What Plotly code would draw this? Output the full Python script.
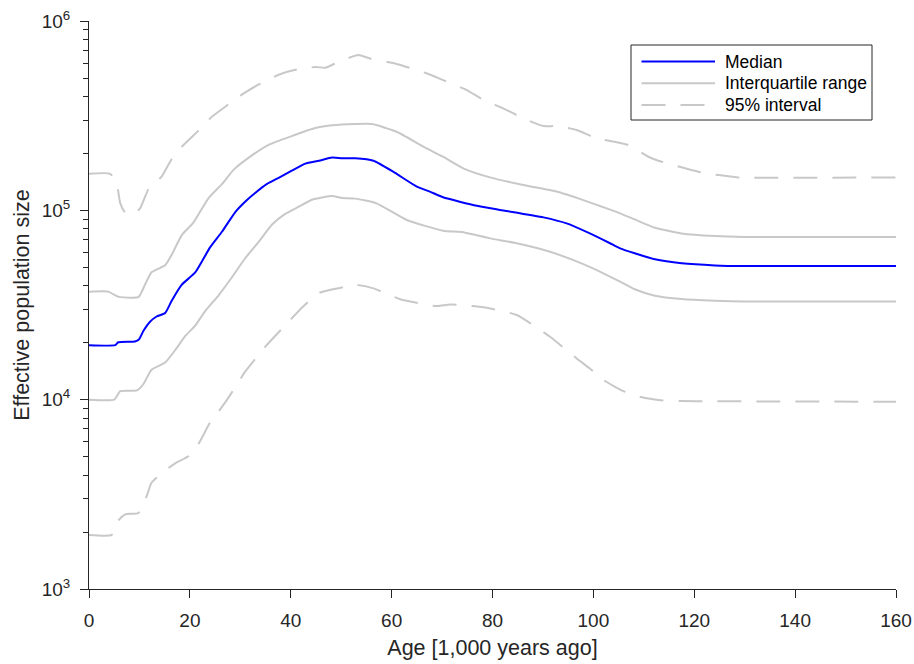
import plotly.graph_objects as go

# ---------------- data ----------------
median_age = [0, 5.2, 5.8, 9.1, 9.9, 10.8, 12.1, 13.4, 15.1, 16.4, 18.4, 21.1, 24.0, 26.4, 29.0,
              31.0, 33.0, 35.3, 37.6, 40.3, 42.9, 45.6, 48.2, 50.2, 52.8, 56.4, 60.3, 65.0, 67.6,
              70.2, 76.9, 81.5, 90.1, 94.7, 99.3, 103.3, 105.3, 108.2, 112.2, 117.5, 124.1, 130, 160]
median_ne = [19400, 19400, 20100, 20300, 20800, 23100, 25800, 27500, 28700, 33300, 40500, 47100,
             63700, 77300, 97900, 111400, 123900, 138000, 148600, 162600, 176600, 182800, 190100,
             188400, 188400, 182800, 160000, 133400, 125600, 117200, 105700, 100500, 91800, 85300,
             75500, 67000, 63000, 59300, 55100, 52500, 51200, 50800, 50800]

iqr_hi_age = [0, 3.8, 5.5, 6.2, 9.8, 11.1, 12.4, 15.1, 16.4, 18.4, 20.7, 23.7, 26.4, 28.7, 32.3,
              35.6, 40.3, 44.2, 48.2, 52.8, 56.1, 61.0, 66.3, 70.2, 74.2, 79.5, 86.1, 92.7, 98.0,
              102.0, 105.3, 108.2, 112.2, 117.5, 124.1, 130, 160]
iqr_hi_ne = [37200, 37200, 35200, 34800, 34800, 40500, 47100, 51300, 58300, 74000, 86100, 116100,
             138000, 164100, 195000, 221800, 247200, 269200, 281200, 285800, 285800, 260000,
             216800, 191900, 166700, 149300, 136100, 125600, 113200, 103800, 96400, 89500, 80900,
             75500, 73100, 72300, 72300]

iqr_lo_age = [0, 5.0, 6.2, 9.5, 10.8, 12.4, 15.1, 17.1, 19.1, 21.1, 23.0, 25.7, 28.3, 31.0, 33.6,
              36.3, 38.9, 41.6, 44.2, 48.2, 50.2, 52.8, 57.0, 63.0, 70.2, 74.2, 79.5, 84.8, 91.4,
              98.0, 102.0, 105.3, 108.2, 112.2, 117.5, 124.1, 130, 160]
iqr_lo_ne = [10000, 10000, 11100, 11200, 12100, 14400, 15700, 18300, 21700, 24700, 29300, 35600,
             44200, 56000, 67900, 84100, 95700, 104500, 113800, 118900, 116100, 115300, 108900,
             88900, 78000, 76600, 71100, 67000, 60400, 52000, 46500, 42000, 38300, 35400, 34000,
             33300, 33000, 33000]

ci_hi_age = [0, 4.2, 5.5, 6.2, 7.2, 8.5, 10.1, 11.8, 14.4, 16.4, 18.4, 21.7, 24.4, 27.7, 30.3,
             33.6, 37.6, 40.9, 44.9, 46.9, 49.5, 53.4, 55.7, 61.0, 66.9, 70.2, 74.9, 78.2, 82.1,
             86.1, 90.1, 92.7, 96.7, 100.6, 104.3, 106.9, 110.9, 112.9, 117.5, 120.8, 124.8,
             128.7, 160]
ci_hi_ne = [156000, 156000, 138000, 108900, 97000, 95000, 102100, 129400, 150700, 186600, 216800,
            263600, 312600, 363900, 408300, 461300, 520000, 552100, 571500, 566200, 609500,
            660700, 633900, 592900, 529700, 487500, 431500, 382800, 345900, 306200, 278600,
            278600, 265500, 239900, 230100, 221300, 191900, 182800, 168700, 160000, 153500,
            149300, 149300]

ci_lo_age = [0, 4.5, 5.8, 7.2, 9.8, 11.5, 12.4, 15.1, 17.1, 19.7, 21.7, 24.0, 26.4, 28.3, 31.0,
             35.0, 38.9, 42.2, 45.6, 49.5, 53.1, 56.4, 61.7, 68.9, 71.6, 78.2, 84.8, 91.4, 96.7,
             99.3, 102.0, 104.3, 106.3, 108.9, 112.9, 117.5, 160]
ci_lo_ne = [1930, 1930, 2300, 2480, 2520, 3130, 3640, 4230, 4610, 5020, 5830, 7570, 9180, 10900,
            14100, 19100, 24700, 30600, 36600, 38800, 40300, 38700, 33900, 31200, 31800, 30800,
            28000, 21500, 16500, 14600, 12700, 11700, 11000, 10400, 9950, 9840, 9750]

x_ticks = [0, 20, 40, 60, 80, 100, 120, 140, 160]
y_ticks = [1e3, 1e4, 1e5, 1e6]
y_tick_text = ["10<sup>3</sup>", "10<sup>4</sup>", "10<sup>5</sup>", "10<sup>6</sup>"]
y_minor = [m * 10 ** e for e in (3, 4, 5) for m in range(2, 10)]
legend_labels = ["Median", "Interquartile range", "95% interval"]

# ---------------- styles ----------------
AX = "#262626"
GRAY = "#c8c8c8"
BLUE = "#0000ff"
FONT = "Liberation Sans, Arial, Helvetica, sans-serif"
DASH = "24px,15px"
SM = 0.5

fig = go.Figure()
fig.add_trace(go.Scatter(x=ci_hi_age, y=ci_hi_ne, mode="lines", name=legend_labels[2],
                         line=dict(color=GRAY, width=2, dash=DASH, shape="spline", smoothing=SM),
                         showlegend=False))
fig.add_trace(go.Scatter(x=ci_lo_age, y=ci_lo_ne, mode="lines", name=legend_labels[2],
                         line=dict(color=GRAY, width=2, dash=DASH, shape="spline", smoothing=SM),
                         showlegend=False))
fig.add_trace(go.Scatter(x=iqr_hi_age, y=iqr_hi_ne, mode="lines", name=legend_labels[1],
                         line=dict(color=GRAY, width=2, shape="spline", smoothing=SM),
                         showlegend=False))
fig.add_trace(go.Scatter(x=iqr_lo_age, y=iqr_lo_ne, mode="lines", name=legend_labels[1],
                         line=dict(color=GRAY, width=2, shape="spline", smoothing=SM),
                         showlegend=False))
fig.add_trace(go.Scatter(x=median_age, y=median_ne, mode="lines", name=legend_labels[0],
                         line=dict(color=BLUE, width=2, shape="spline", smoothing=SM),
                         showlegend=False))

# ---------------- legend box (drawn in plot-area fractions) ----------------
PL, PT, PW, PH = 89, 21, 807, 568
def fx(px):
    return (px - PL) / PW
def fy(py):
    return (PT + PH - py) / PH

shapes = [dict(type="rect", xref="paper", yref="paper", x0=fx(631), x1=fx(872),
               y0=fy(120), y1=fy(45), line=dict(color=AX, width=1), fillcolor="white",
               layer="above")]
annotations = []
styles = [dict(color=BLUE, width=2), dict(color=GRAY, width=2),
          dict(color=GRAY, width=2, dash=DASH)]
rows = [61.5, 83.3, 105]
for lab, st, ry in zip(legend_labels, styles, rows):
    shapes.append(dict(type="line", xref="paper", yref="paper", x0=fx(641.5), x1=fx(715),
                       y0=fy(ry), y1=fy(ry), line=st, layer="above"))
    annotations.append(dict(xref="paper", yref="paper", x=fx(723), y=fy(ry), text=lab,
                            showarrow=False, xanchor="left", yanchor="middle",
                            font=dict(size=17.5, family=FONT, color="black")))

fig.update_layout(
    width=914, height=664,
    margin=dict(l=89, r=18, t=21, b=75, pad=0),
    paper_bgcolor="white", plot_bgcolor="white",
    font=dict(family=FONT, color=AX, size=19),
    showlegend=False,
    shapes=shapes, annotations=annotations,
    xaxis=dict(range=[0, 160], tickvals=x_ticks, ticks="outside", ticklen=8, tickwidth=1,
               tickcolor=AX, showline=True, linecolor=AX, linewidth=1, showgrid=False,
               zeroline=False, tickfont=dict(size=19, color=AX), automargin=False,
               ticklabelstandoff=6,
               title=dict(text="Age [1,000 years ago]", font=dict(size=21.5, color=AX),
                          standoff=10)),
    yaxis=dict(type="log", range=[3, 6], tickvals=y_ticks, ticktext=y_tick_text,
               ticks="outside", ticklen=8, tickwidth=1, tickcolor=AX, showline=True,
               linecolor=AX, linewidth=1, showgrid=False, zeroline=False,
               tickfont=dict(size=19, color=AX), automargin=False, ticklabelstandoff=6,
               minor=dict(tickvals=y_minor, ticks="outside", ticklen=5, tickwidth=1,
                          tickcolor=AX, showgrid=False),
               title=dict(text="Effective population size", font=dict(size=21.5, color=AX),
                          standoff=6)),
)

fig.write_html("out.html")
